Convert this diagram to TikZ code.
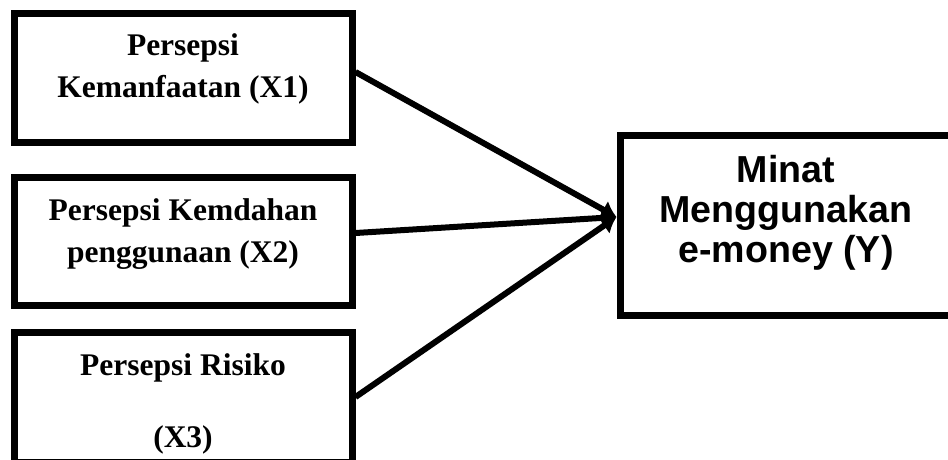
\documentclass[tikz,border=0pt]{standalone}
\usepackage{fontspec}
\setmainfont{Liberation Serif}
\newfontfamily\arialfont{Liberation Sans}
\usetikzlibrary{arrows.meta}

\begin{document}
\begin{tikzpicture}[x=1pt,y=-1pt,>={Latex[length=15pt,width=20pt]},
  kotak/.style={draw,line width=7pt,inner sep=0pt,minimum width=338pt},
  teksx/.style={anchor=base,align=center,font=\fontsize{31.5}{42}\selectfont\bfseries},
  teksy/.style={anchor=base,align=center,font=\arialfont\fontsize{37.6}{40}\selectfont\bfseries},
  panah/.style={->,line width=6pt}]
  \clip (0,0) rectangle (948,459);
  % variabel bebas (kiri)
  \node[kotak,minimum height=129pt] (x1) at (183,77.5){};
  \node[teksx] (x1lbl) at (183,97.7){Persepsi\\Kemanfaatan (X1)};
  \node[kotak,minimum height=128pt] (x2) at (183,241){};
  \node[teksx] (x2lbl) at (183,262){Persepsi Kemdahan\\penggunaan (X2)};
  \node[kotak,minimum height=130pt] (x3) at (183,397){};
  \node[teksx] (x3lbl) at (183,447){Persepsi Risiko\\[30pt](X3)};
  % variabel terikat (kanan)
  \node[kotak,minimum width=332pt,minimum height=180pt] (y) at (786,225){};
  \node[teksy] (ylbl) at (786,262){Minat\\Menggunakan\\e-money (Y)};
  % panah
  \coordinate (ujung) at ([yshift=8pt]y.west);
  \draw[panah] ([yshift=5.5pt]x1.east) -- (ujung);
  \draw[panah] ([yshift=8pt]x2.east) -- (ujung);
  \draw[panah] (x3.east) -- (ujung);
\end{tikzpicture}
\end{document}
